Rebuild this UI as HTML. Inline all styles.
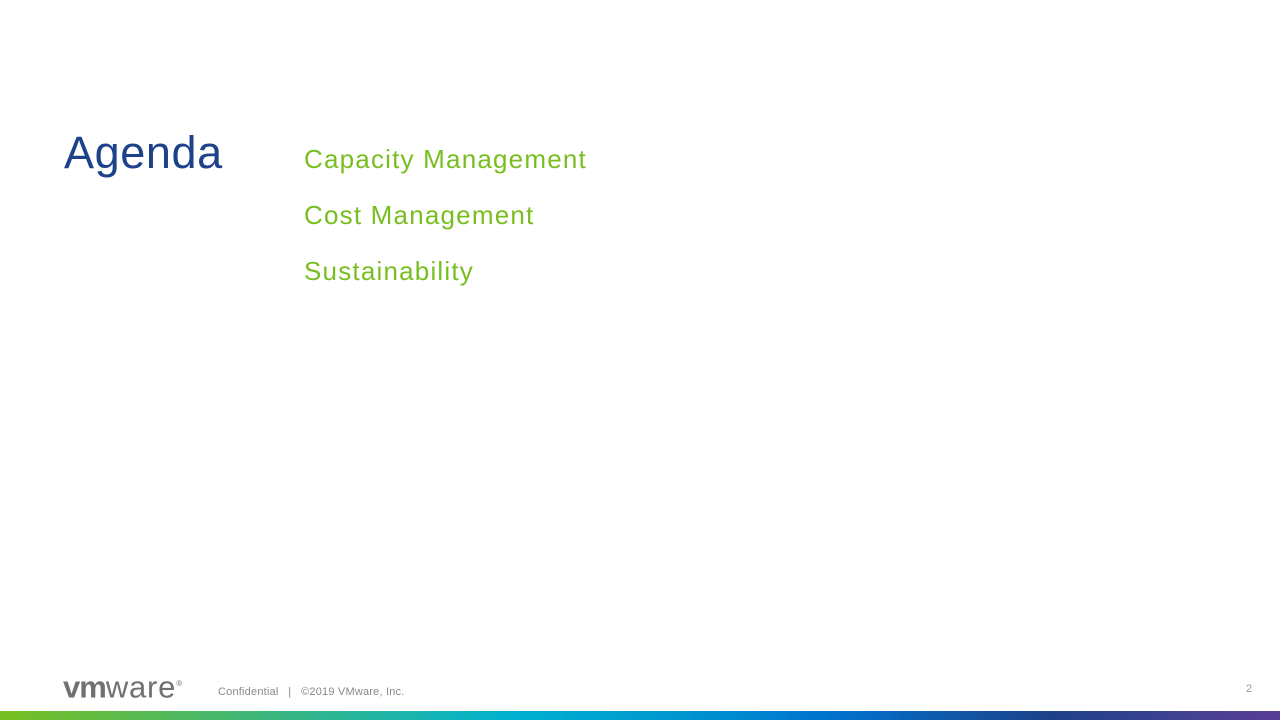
<!DOCTYPE html>
<html><head><meta charset="utf-8"><style>
html,body{margin:0;padding:0;width:1280px;height:720px;background:#fff;overflow:hidden;position:relative;font-family:"Liberation Sans",sans-serif}
.abs{position:absolute;white-space:nowrap}
#title{left:64px;top:127px;font-size:45px;color:#1d428a;line-height:52px;letter-spacing:0.6px}
.item{left:304px;font-size:26px;color:#78be20;line-height:30px;letter-spacing:1.2px}
#logo{left:63px;top:666px;font-size:31px;color:#717074;letter-spacing:0.8px;line-height:36px}
#logo b{font-weight:bold;letter-spacing:-1px}
#foot{left:218px;top:685px;font-size:11px;color:#888;line-height:14px;letter-spacing:0.2px}
#pg{left:1246px;top:683px;font-size:11px;color:#999}
#bar{left:0;top:711px;width:1280px;height:9px;background:linear-gradient(90deg,#78be20 0%,#2fb58f 25%,#00b2d0 40%,#0091d0 55%,#0072ce 65%,#1d428a 82%,#5b3e96 100%)}
</style></head><body>
<div class="abs" id="title">Agenda</div>
<div class="abs item" style="top:144px">Capacity Management</div>
<div class="abs item" style="top:200px">Cost Management</div>
<div class="abs item" style="top:256px">Sustainability</div>
<div class="abs" id="logo"><b>vm</b>ware<sup style="font-size:8px">®</sup></div>
<div class="abs" id="foot">Confidential &nbsp;&nbsp;|&nbsp;&nbsp; ©2019 VMware, Inc.</div>
<div class="abs" id="pg">2</div>
<div class="abs" id="bar"></div>
</body></html>
